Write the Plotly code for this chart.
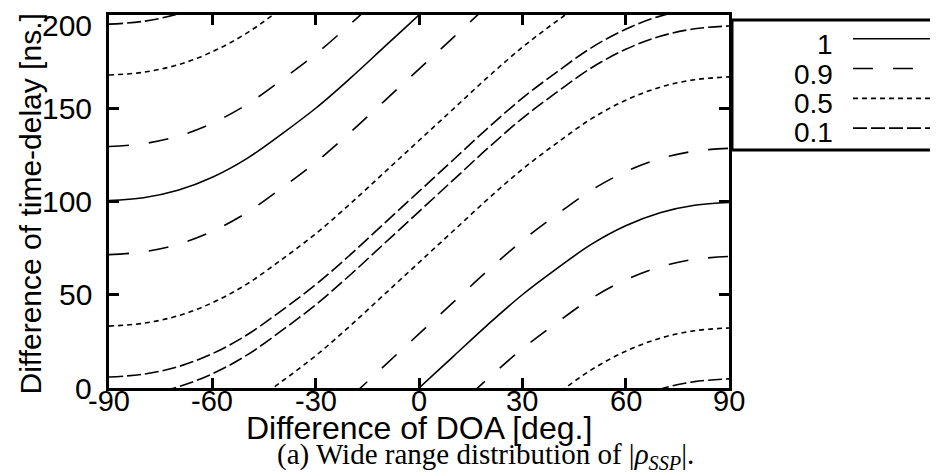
import plotly.graph_objects as go

# ---- data ----
# base shape of an iso-correlation line (read along the |rho|=1 line through the origin)
profile_doa = [-90, -80, -70, -60, -50, -40, -30, -20, -10, 0,
               10, 20, 30, 40, 50, 60, 70, 80, 90]
profile_delay = [-99.5, -98, -94, -87, -77, -64, -50, -34, -17, 0,
                 17, 34, 50, 64, 77, 87, 94, 98, 99.5]

# vertical offsets (time-delay at DOA difference 0) of each contour, per level
levels = ["1", "0.9", "0.5", "0.1"]
offsets_1 = [0, 200]
offsets_09 = [-29, 29, 171, 229]
offsets_05 = [-67.3, 67.3, 132.7, 267.3]
offsets_01 = [-94.6, 94.6, 105.4, 294.6]

x_ticks = [-90, -60, -30, 0, 30, 60, 90]
y_ticks = [0, 50, 100, 150, 200]

# ---- styling ----
OFF = 8                      # page body margin
W, H = 938 - OFF, 476 - OFF
L, T = 109 - OFF, 12 - OFF
R = W - (729 - OFF)
B = H - (388 - OFF)
PW, PH = W - L - R, H - T - B

def px2paper(px, py):
    # page pixel -> paper coordinates
    px -= OFF
    py -= OFF
    return (px - L) / PW, (H - B - py) / PH

dash_for = {"1": "solid", "0.9": "20px,20px", "0.5": "5px,4px", "0.1": "14px,4px"}
FONT = "Liberation Sans, Arial, sans-serif"

fig = go.Figure()
for lev, offs in zip(levels, [offsets_1, offsets_09, offsets_05, offsets_01]):
    for c in offs:
        fig.add_trace(go.Scatter(
            x=profile_doa, y=[c + v for v in profile_delay],
            mode="lines", line=dict(color="black", width=1.6, dash=dash_for[lev], shape="spline"),
            showlegend=False, hoverinfo="skip"))

axis_common = dict(showgrid=False, zeroline=False, showline=True, linecolor="black",
                   linewidth=3, mirror="ticks", ticks="inside", ticklen=10, tickwidth=3,
                   tickcolor="black", showticklabels=False)
fig.update_xaxes(range=[-90, 90], tickvals=x_ticks, **axis_common)
fig.update_yaxes(range=[0, 200], tickvals=y_ticks, **axis_common)

ann = []
for v in y_ticks:
    ann.append(dict(x=0, y=v, xref="paper", yref="y", text=str(v), showarrow=False,
                    xanchor="right", yanchor="middle", xshift=-15,
                    yshift=-10 if v == 200 else 0,
                    font=dict(family=FONT, size=30, color="black")))
for v in x_ticks:
    ann.append(dict(x=v, y=0, xref="x", yref="paper", text=str(v), showarrow=False,
                    xanchor="center", yanchor="middle", yshift=-13,
                    font=dict(family=FONT, size=29, color="black")))

xp, yp = px2paper(30, 203)
ann.append(dict(x=xp, y=yp, xref="paper", yref="paper", text="Difference of time-delay [ns.]",
                textangle=-90, showarrow=False, xanchor="center", yanchor="middle",
                font=dict(family=FONT, size=30, color="black")))
xp, yp = px2paper(419, 428)
ann.append(dict(x=xp, y=yp, xref="paper", yref="paper", text="Difference of DOA [deg.]",
                showarrow=False, xanchor="center", yanchor="middle",
                font=dict(family=FONT, size=32, color="black")))
xp, yp = px2paper(485, 457)
ann.append(dict(x=xp, y=yp, xref="paper", yref="paper",
                text="(a) Wide range distribution of |<i>ρ</i><sub><i>SSP</i></sub>|.",
                showarrow=False, xanchor="center", yanchor="middle",
                font=dict(family="Liberation Serif, serif", size=29, color="black")))

shapes = []
x0, y0 = px2paper(732, 148)
x1, y1 = px2paper(960, 17)
shapes.append(dict(type="rect", xref="paper", yref="paper", x0=x0, y0=y0, x1=x1, y1=y1,
                   line=dict(color="black", width=3), fillcolor="white", layer="above"))
row_text_y = [42, 72, 101, 130]
row_line_y = [36, 66, 96, 126]
for lev, ty, ly in zip(levels, row_text_y, row_line_y):
    xp, yp = px2paper(835, ty)
    ann.append(dict(x=xp, y=yp, xref="paper", yref="paper", text=lev, showarrow=False,
                    xanchor="right", yanchor="middle",
                    font=dict(family=FONT, size=28, color="black")))
    lx0, lyp = px2paper(853, ly)
    lx1, _ = px2paper(930, ly)
    shapes.append(dict(type="line", xref="paper", yref="paper", x0=lx0, x1=lx1, y0=lyp, y1=lyp,
                       line=dict(color="black", width=1.6, dash=dash_for[lev]), layer="above"))

fig.update_layout(width=W, height=H, margin=dict(l=L, r=R, t=T, b=B, pad=0),
                  paper_bgcolor="white", plot_bgcolor="white",
                  annotations=ann, shapes=shapes, showlegend=False)
fig.write_html("out.html")
